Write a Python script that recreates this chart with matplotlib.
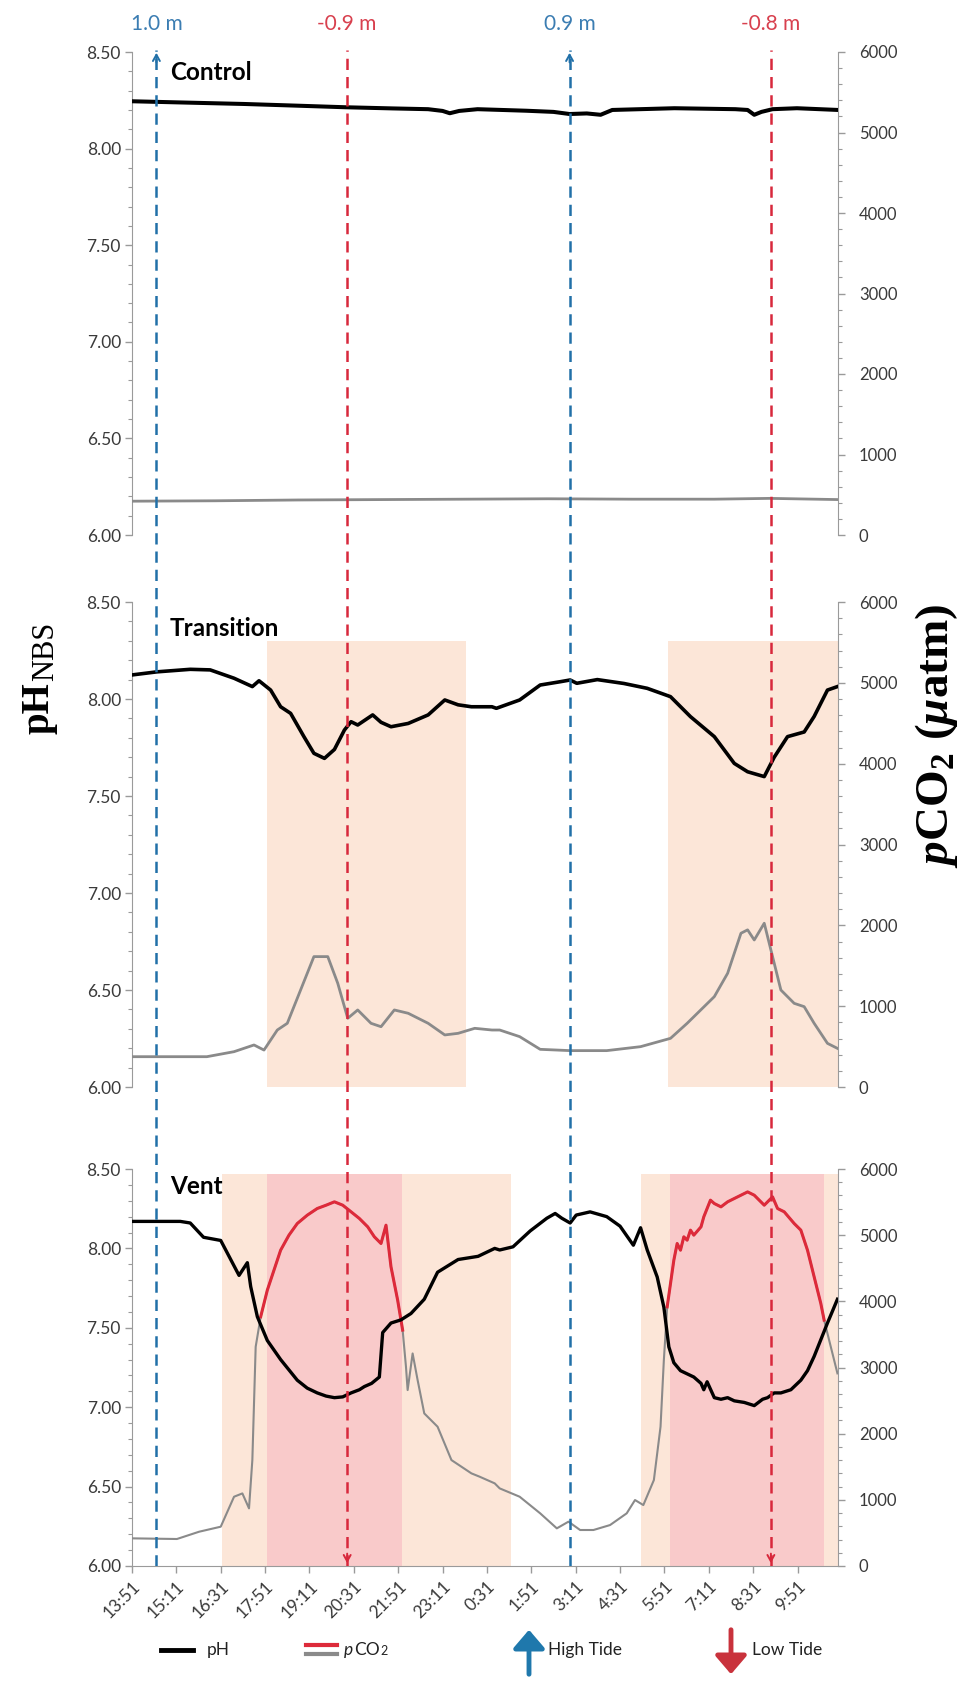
import numpy as np
import matplotlib
matplotlib.use("Agg")
import matplotlib.pyplot as plt
from matplotlib.patches import Rectangle, FancyArrowPatch
from matplotlib.lines import Line2D
from matplotlib.ticker import MultipleLocator, FixedLocator, FormatStrFormatter
from matplotlib.offsetbox import TextArea, HPacker, AnchoredOffsetbox
import matplotlib.transforms as mtrans

plt.rcParams['font.family'] = ['Lato', 'DejaVu Sans']
plt.rcParams['mathtext.fontset'] = 'custom'
plt.rcParams['mathtext.rm'] = 'Liberation Serif:bold'
plt.rcParams['mathtext.it'] = 'Liberation Serif:bold:italic'
plt.rcParams['mathtext.bf'] = 'Liberation Serif:bold'
plt.rcParams['mathtext.sf'] = 'Liberation Serif'

# ---------------- data ----------------
START = "13:51"
END = "11:04"
tick_labels = ["13:51", "15:11", "16:31", "17:51", "19:11", "20:31", "21:51", "23:11",
               "0:31", "1:51", "3:11", "4:31", "5:51", "7:11", "8:31", "9:51"]

tide_times = ["14:35", "20:19", "3:00", "9:03"]
tide_labels = ["1.0 m", "-0.9 m", "0.9 m", "-0.8 m"]
tide_kinds = ["high", "low", "high", "low"]

panel_names = ["Control", "Transition", "Vent"]

# elapsed minutes since 13:51
ctrl_ph_t = [0, 100, 202, 300, 385, 470, 534, 560, 573, 590, 623, 711, 760, 789, 820,
             845, 866, 978, 1088, 1110, 1122, 1135, 1155, 1199, 1273]
ctrl_ph = [8.245, 8.238, 8.231, 8.222, 8.214, 8.208, 8.204, 8.195, 8.183, 8.195, 8.204,
           8.196, 8.190, 8.179, 8.182, 8.175, 8.200, 8.209, 8.204, 8.200, 8.175, 8.190,
           8.204, 8.209, 8.200]
ctrl_co2_t = [0, 150, 300, 450, 600, 750, 900, 1050, 1150, 1273]
ctrl_co2 = [420, 425, 435, 440, 445, 450, 445, 445, 455, 440]

trans_ph_t = [0, 45, 105, 141, 184, 217, 229, 250, 268, 286, 310, 328, 347, 365, 383,
              395, 407, 434, 449, 467, 498, 534, 564, 588, 612, 649, 657, 699, 736, 772,
              790, 802, 839, 887, 929, 971, 1007, 1050, 1086, 1110, 1140, 1158, 1182, 1212,
              1230, 1254, 1272]
trans_ph = [8.124, 8.140, 8.153, 8.150, 8.107, 8.064, 8.094, 8.046, 7.960, 7.926, 7.806,
            7.720, 7.694, 7.740, 7.840, 7.883, 7.866, 7.918, 7.880, 7.857, 7.874, 7.918,
            7.995, 7.970, 7.960, 7.960, 7.952, 7.995, 8.072, 8.089, 8.098, 8.081, 8.100,
            8.080, 8.055, 8.012, 7.909, 7.806, 7.668, 7.625, 7.600, 7.700, 7.806, 7.830,
            7.910, 8.046, 8.064]
trans_co2_t = [0, 135, 184, 220, 238, 262, 280, 304, 328, 353, 371, 389, 407, 431, 449,
               473, 498, 534, 564, 588, 618, 649, 663, 699, 736, 790, 856, 917, 971, 1001,
               1050, 1074, 1098, 1110, 1122, 1140, 1152, 1170, 1194, 1212, 1230, 1254, 1272]
trans_co2 = [375, 375, 437, 520, 457, 705, 788, 1200, 1613, 1613, 1283, 850, 953, 788, 746,
             953, 912, 788, 644, 664, 726, 705, 705, 623, 466, 450, 450, 499, 602, 788,
             1118, 1407, 1902, 1944, 1819, 2026, 1696, 1200, 1035, 994, 788, 540, 478]

vent_ph_t = [0, 87, 105, 129, 160, 178, 193, 208, 214, 226, 244, 256, 268, 283, 298,
             316, 334, 350, 365, 380, 395, 410, 419, 432, 446, 452, 467, 485, 503, 527,
             551, 588, 624, 654, 663, 687, 718, 748, 763, 775, 790, 801, 826, 856, 880,
             904, 917, 929, 947, 959, 968, 977, 989, 1001, 1013, 1026, 1031, 1037, 1050,
             1062, 1074, 1086, 1104, 1122, 1137, 1146, 1158, 1170, 1188, 1206, 1218, 1230,
             1254, 1272]
vent_ph = [8.17, 8.17, 8.16, 8.07, 8.05, 7.93, 7.83, 7.91, 7.76, 7.57, 7.42, 7.36, 7.30,
           7.235, 7.17, 7.12, 7.09, 7.07, 7.06, 7.065, 7.09, 7.11, 7.13, 7.15, 7.19, 7.47,
           7.53, 7.55, 7.59, 7.68, 7.85, 7.93, 7.95, 8.00, 7.99, 8.01, 8.11, 8.19, 8.22,
           8.19, 8.16, 8.21, 8.23, 8.20, 8.14, 8.02, 8.13, 7.99, 7.82, 7.63, 7.38, 7.28,
           7.23, 7.21, 7.19, 7.15, 7.11, 7.16, 7.06, 7.05, 7.06, 7.04, 7.03, 7.01, 7.05,
           7.06, 7.09, 7.09, 7.11, 7.17, 7.23, 7.32, 7.53, 7.68]
vent_co2_t = [0, 81, 121, 160, 184, 199, 211, 217, 223, 232, 244, 256, 268, 283, 298,
              316, 334, 350, 365, 380, 395, 410, 425, 437, 449, 458, 467, 479, 488, 494,
              497, 506, 515, 527, 551, 576, 612, 627, 654, 663, 699, 736, 766, 787, 808,
              832, 862, 892, 907, 922, 941, 953, 959, 965, 977, 983, 989, 995, 1001, 1007,
              1013, 1026, 1031, 1043, 1050, 1062, 1074, 1086, 1110, 1122, 1140, 1155, 1164,
              1176, 1194, 1206, 1218, 1230, 1242, 1248, 1260, 1272]
vent_co2 = [418, 408, 518, 594, 1047, 1097, 871, 1601, 3313, 3766, 4169, 4471, 4773, 5000,
            5176, 5302, 5403, 5453, 5504, 5453, 5353, 5252, 5126, 4975, 4874, 5151, 4522,
            4018, 3565, 3011, 2659, 3212, 2810, 2306, 2105, 1601, 1400, 1349, 1249, 1173,
            1047, 796, 569, 670, 544, 544, 619, 796, 997, 921, 1299, 2105, 3112, 3917, 4622,
            4874, 4773, 4975, 4924, 5076, 5000, 5126, 5277, 5529, 5478, 5428, 5504, 5554,
            5654, 5604, 5453, 5579, 5403, 5353, 5176, 5076, 4773, 4370, 3968, 3716, 3313,
            2911]
high_co2_level = 3500

# shaded windows (elapsed minutes), zone type
trans_shade = [(244, 602, "moderate"), (967, 1273, "moderate")]
vent_shade = [(162, 243, "moderate"), (243, 486, "high"), (486, 684, "moderate"),
              (917, 970, "moderate"), (970, 1248, "high"), (1248, 1273, "moderate")]
shade_top = [None, 8.30, 8.47]

# ---------------- styles ----------------
C_PEACH = "#FCE6D8"
C_PINK = "#F9CACA"
C_GREY = "#8A8A8A"
C_RED = "#DD2A3A"
C_BLUE_LINE = "#2170A8"
C_RED_LINE = "#D8283C"
C_BLUE_TXT = "#3B7DB2"
C_RED_TXT = "#D8404E"
C_AXIS = "#9A9A9A"
C_TICKLBL = "#3A3A3A"
TXT = "#222222"


def clock_to_min(s):
    h, m = map(int, s.split(":"))
    h0, m0 = map(int, START.split(":"))
    return ((h * 60 + m) - (h0 * 60 + m0)) % 1440


tick_pos = [clock_to_min(s) for s in tick_labels]
x_max = clock_to_min(END)

W, H = 960.0, 1702.0
L, R = 132, 838
bounds = [(52, 535), (602, 1087), (1169, 1566)]

fig = plt.figure(figsize=(9.6, 17.02), dpi=100)
fig.patch.set_facecolor("white")

ph_data = [(ctrl_ph_t, ctrl_ph), (trans_ph_t, trans_ph), (vent_ph_t, vent_ph)]
co2_data = [(ctrl_co2_t, ctrl_co2), (trans_co2_t, trans_co2), (vent_co2_t, vent_co2)]
shades = [[], trans_shade, vent_shade]
title_y = [0.957, 0.946, 0.955]
ph_lw = [2.9, 2.6, 2.4]

for i in range(3):
    top, bot = bounds[i]
    ax = fig.add_axes([L / W, 1 - bot / H, (R - L) / W, (bot - top) / H])
    ax.set_xlim(0, x_max)
    ax.set_ylim(6.0, 8.5)
    ax.patch.set_alpha(0)
    ax2 = ax.twinx()
    ax2.set_ylim(0, 6000)
    ax.set_zorder(1)
    ax2.set_zorder(2)
    ax2.patch.set_alpha(0)

    for (a, b, kind) in shades[i]:
        ax.add_patch(Rectangle((a, 6.0), b - a, shade_top[i] - 6.0,
                               facecolor=C_PINK if kind == "high" else C_PEACH,
                               edgecolor="none", zorder=0))

    t, v = ph_data[i]
    tc, vc = co2_data[i]
    ax2.plot(tc, vc, color=C_GREY, lw=2.0 if i < 2 else 1.5, zorder=3)
    if i == 2:
        vc_arr = np.array(vc, dtype=float)
        ax2.plot(tc, np.where(vc_arr >= high_co2_level, vc_arr, np.nan), color=C_RED,
                 lw=2.2, zorder=4)
    ax2.plot(t, v, color="black", lw=ph_lw[i], zorder=5,
             transform=mtrans.blended_transform_factory(ax.transData, ax.transData))

    for sp in ["top", "right", "bottom"]:
        ax.spines[sp].set_visible(False)
    for sp in ["top", "left", "bottom"]:
        ax2.spines[sp].set_visible(False)
    ax.spines["left"].set_color(C_AXIS)
    ax2.spines["right"].set_color(C_AXIS)
    if i == 2:
        ax.spines["bottom"].set_visible(True)
        ax.spines["bottom"].set_color(C_AXIS)

    ax.yaxis.set_major_locator(FixedLocator(np.arange(6.0, 8.51, 0.5)))
    ax.yaxis.set_major_formatter(FormatStrFormatter("%.2f"))
    ax.yaxis.set_minor_locator(MultipleLocator(0.1))
    ax2.yaxis.set_major_locator(MultipleLocator(1000))
    ax2.yaxis.set_minor_locator(MultipleLocator(200))
    ax.tick_params(axis="y", which="major", length=5, width=1, color=C_AXIS,
                   labelsize=12.5, labelcolor=C_TICKLBL, pad=3)
    ax.tick_params(axis="y", which="minor", length=3, width=0.8, color=C_AXIS)
    ax2.tick_params(axis="y", which="major", length=5, width=1, color=C_AXIS,
                    labelsize=12, labelcolor=C_TICKLBL, pad=10)
    ax2.tick_params(axis="y", which="minor", length=3, width=0.8, color=C_AXIS)
    ax2.set_xticks([])
    if i == 2:
        ax.set_xticks(tick_pos)
        ax.set_xticklabels(tick_labels, rotation=45, ha="right", va="top",
                           rotation_mode="anchor")
        ax.tick_params(axis="x", length=5, width=1, color=C_AXIS, labelsize=12.5,
                       labelcolor=C_TICKLBL, pad=4)
    else:
        ax.set_xticks([])

    ax.text(0.054, title_y[i], panel_names[i], transform=ax.transAxes, fontsize=17.5,
            fontweight="bold", ha="left", va="center", color="black", zorder=10)

# ---------------- tide lines ----------------
ov_top, ov_bot = 50, 1566
ax_o = fig.add_axes([L / W, 1 - ov_bot / H, (R - L) / W, (ov_bot - ov_top) / H])
ax_o.set_xlim(0, x_max)
ax_o.set_ylim(0, 1)
ax_o.axis("off")
ax_o.set_zorder(5)
lbl_tr = mtrans.blended_transform_factory(ax_o.transData, fig.transFigure)
for tstr, lab, kind in zip(tide_times, tide_labels, tide_kinds):
    tm = clock_to_min(tstr)
    col = C_BLUE_LINE if kind == "high" else C_RED_LINE
    tcol = C_BLUE_TXT if kind == "high" else C_RED_TXT
    ax_o.plot([tm, tm], [0, 1], color=col, lw=1.8, ls=(0, (4.5, 2.8)))
    y_tip, y_tail = (1.0, 0.99) if kind == "high" else (0.0, 0.01)
    ax_o.annotate("", xy=(tm, y_tip), xytext=(tm, y_tail),
                  arrowprops=dict(arrowstyle="->,head_length=0.45,head_width=0.25",
                                  color=col, lw=1.4))
    ax_o.text(tm, 1 - 24 / H, lab, transform=lbl_tr, color=tcol, fontsize=15,
              ha="center", va="center")

# ---------------- axis titles ----------------
renderer = fig.canvas.get_renderer()
t_ph = fig.text(48 / W, 1 - 734 / H, "pH", rotation=90, rotation_mode="anchor",
                ha="left", va="baseline", fontsize=28, fontweight="bold",
                family="Liberation Serif", color="black")
bb = t_ph.get_window_extent(renderer)
fig.text(53 / W, (bb.y1 + 1) / H, "NBS", rotation=90, rotation_mode="anchor",
         ha="left", va="baseline", fontsize=22, family="Liberation Serif", color="black")

fig.text(936 / W, 1 - 736 / H,
         r"$\mathit{p}\mathrm{CO}_{\mathrm{2}}\ \mathrm{(}\mathit{\mu}\mathrm{atm)}$",
         rotation=90, fontsize=34, ha="center", va="center")

# ---------------- legend ----------------
ly = 1 - 1650 / H
fig.add_artist(Line2D([161 / W, 193 / W], [ly, ly], color="black", lw=3.5,
                      transform=fig.transFigure))
fig.text(207 / W, ly, "pH", fontsize=12.5, ha="left", va="center", color=TXT)
fig.add_artist(Line2D([306 / W, 337 / W], [ly + 5 / H, ly + 5 / H], color=C_RED, lw=3,
                      transform=fig.transFigure))
fig.add_artist(Line2D([306 / W, 337 / W], [ly - 4 / H, ly - 4 / H], color=C_GREY, lw=3,
                      transform=fig.transFigure))
pco2_box = HPacker(children=[TextArea("p", textprops=dict(fontsize=12.5, style="italic",
                                                          color=TXT)),
                             TextArea("CO", textprops=dict(fontsize=12.5, color=TXT)),
                             TextArea("2", textprops=dict(fontsize=9, color=TXT))],
                   align="baseline", pad=0, sep=0.5)
fig.add_artist(AnchoredOffsetbox(loc="center left", child=pco2_box, pad=0, borderpad=0,
                                 frameon=False, bbox_to_anchor=(344 / W, ly),
                                 bbox_transform=fig.transFigure))
fig.add_artist(FancyArrowPatch(
    (529 / W, 1 - 1677 / H), (529 / W, 1 - 1627 / H), transform=fig.transFigure,
    arrowstyle="-|>,head_length=7,head_width=6", mutation_scale=1.6, lw=3.5,
    color="#1F78AC"))
fig.text(548 / W, ly, "High Tide", fontsize=12.5, ha="left", va="center", color=TXT)
fig.add_artist(FancyArrowPatch(
    (731 / W, 1 - 1627 / H), (731 / W, 1 - 1677 / H), transform=fig.transFigure,
    arrowstyle="-|>,head_length=7,head_width=6", mutation_scale=1.6, lw=3.5,
    color="#C9323C"))
fig.text(752 / W, ly, "Low Tide", fontsize=12.5, ha="left", va="center", color=TXT)

fig.savefig("out.png", dpi=100, facecolor="white")
